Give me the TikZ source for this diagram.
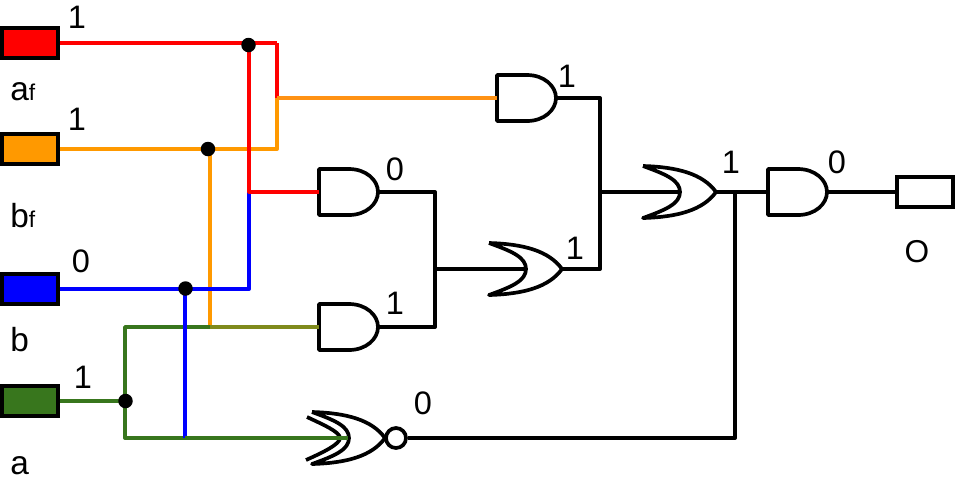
\documentclass[tikz,border=0pt]{standalone}
\usepackage{fontspec}
\setmainfont{Liberation Sans}
\definecolor{wirered}{HTML}{FF0000}
\definecolor{wireorange}{HTML}{FF9900}
\definecolor{wireamber}{HTML}{FF9214}
\definecolor{wireblue}{HTML}{0000FF}
\definecolor{wiregreen}{HTML}{38761D}
\definecolor{wireolive}{HTML}{7F8A1C}
\newcommand{\orbody}{(0,-26) .. controls (35,-25) and (60,-18) .. (73,0)
  .. controls (60,18) and (35,25) .. (0,26)
  .. controls (22,18) and (37,12) .. (37,0)
  .. controls (37,-12) and (22,-18) .. (0,-26)}
\tikzset{
  gateline/.style={draw=black,line width=2.1pt,line join=round},
  wire/.style={line width=2.2pt,line join=round},
  heavy/.style={line width=2.7pt},
  inputbox/.style={draw=black,line width=2pt,rectangle,minimum width=1.12cm,minimum height=0.6cm,inner sep=0pt},
  digit/.style={inner sep=0pt,font=\fontsize{18.5}{18.5}\selectfont},
  letter/.style={inner sep=0pt,anchor=base west,font=\fontsize{19}{19}\selectfont},
  dot/.style={circle,fill=black,minimum size=0.29cm,inner sep=0pt},
  andgate/.pic={
    \draw[gateline] (0,-23) -- (30,-23) .. controls (47,-23) and (59,-12) .. (59,0)
      .. controls (59,12) and (47,23) .. (30,23) -- (0,23) -- cycle;
    \coordinate (-in) at (0,0);
    \coordinate (-out) at (59,0);
  },
  orgate/.pic={
    \draw[gateline] \orbody;
    \coordinate (-in) at (37,0);
    \coordinate (-out) at (73,0);
  },
  xnorgate/.pic={
    \draw[gateline] \orbody;
    \draw[gateline] (-5,-21) .. controls (12,-13) and (28,-6) .. (28,0)
      .. controls (28,6) and (12,14) .. (-6,22);
    \node[circle,draw=black,line width=2.1pt,minimum size=0.4cm,inner sep=0pt] (-bubble) at (84,0) {};
    \coordinate (-in) at (36,0);
  },
}
\begin{document}
\begin{tikzpicture}[x=0.02cm,y=-0.02cm]
  \useasboundingbox (0,0) rectangle (960,485);

  \node[inputbox,fill=wirered] (af) at (30,43) {};
  \node[inputbox,fill=wireorange] (bf) at (30,149) {};
  \node[inputbox,fill=wireblue] (b) at (30,289) {};
  \node[inputbox,fill=wiregreen] (a) at (30,401) {};
  \node[inputbox] (out) at (925,192) {};

  \pic (and1) at (497,98) {andgate};
  \pic (and2) at (319,192) {andgate};
  \pic (and3) at (319,327) {andgate};
  \pic (and4) at (768,192) {andgate};
  \pic (or1) at (489,269) {orgate};
  \pic (or2) at (643,192) {orgate};
  \pic (xnor) at (312,438) {xnorgate};

  \coordinate (redtop) at (277,43);
  \coordinate (redfork) at (249,43);
  \coordinate (redmid) at (249,192);
  \coordinate (orange1) at (277,98);
  \coordinate (orange2) at (277,149);
  \coordinate (orangefork) at (210,149);
  \coordinate (orangelow) at (210,327);
  \coordinate (bluecorner) at (249,289);
  \coordinate (bluefork) at (185,289);
  \coordinate (bluelow) at (185,438);
  \coordinate (green1) at (125,327);
  \coordinate (green2) at (125,438);
  \coordinate (merge1) at (435,269);
  \coordinate (corner1) at (435,192);
  \coordinate (corner2) at (435,327);
  \coordinate (corner3) at (600,98);
  \coordinate (corner4) at (600,269);
  \coordinate (merge2) at (600,192);
  \coordinate (tap) at (735,192);
  \coordinate (corner5) at (735,438);

  \draw[wire,wireorange] (orangelow) -- (orangefork);
  \draw[wire,wireblue] (b.east) -- (bluecorner) -- (redmid);
  \draw[wire,wireorange] (bf.east) -- (orange2) -- (orange1);
  \draw[wire,wirered] (redtop) -- (orange1);
  \draw[wire,wirered] (af.east) -- (redtop);
  \draw[wire,wireblue,yshift=-0.9] (redmid) -- (and2-in);
  \draw[wire,wirered,line width=1.8pt] (redfork) -- (redmid) -- (and2-in);
  \draw[wire,wireamber] (orange1) -- (and1-in);
  \draw[wire,wiregreen] (a.east) -- (a.east -| green1);
  \draw[wire,wiregreen] (and3-in) -- (green1) -- (green2) -- (bluelow);
  \draw[wire,wireblue] (bluefork) -- (bluelow);
  \draw[wire,wireblue,yshift=0.6] (bluelow) -- (xnor-in);
  \draw[wire,wiregreen,line width=1.8pt] (bluelow) -- (xnor-in);
  \draw[wire,wireolive] (orangelow) -- (and3-in);
  \draw[wire] (and1-out) -- (corner3) -- (corner4) -- (or1-out);
  \draw[wire] (and2-out) -- (corner1) -- (corner2) -- (and3-out);
  \draw[wire,heavy] (merge1) -- (or1-in);
  \draw[wire,heavy] (merge2) -- (or2-in);
  \draw[wire] (or2-out) -- (and4-in);
  \draw[wire] (tap) -- (corner5) -- (xnor-bubble.east);
  \draw[wire,line width=1.9pt] (and4-out) -- (out.west);

  \node[dot] (dotaf) at (248.5,45) {};
  \node[dot] (dotbf) at (208,149) {};
  \node[dot] (dotb) at (185.5,288.5) {};
  \node[dot] (dota) at (125.5,401) {};

  \node[digit] (valaf) at (77,17) {1};
  \node[digit] (valbf) at (77,119) {1};
  \node[digit] (valb) at (81,261) {0};
  \node[digit] (vala) at (83,377) {1};
  \node[digit] (valand1) at (567,76) {1};
  \node[digit] (valand2) at (395,169) {0};
  \node[digit] (valand3) at (395,303) {1};
  \node[digit] (valor1) at (575,248) {1};
  \node[digit] (valor2) at (731,162) {1};
  \node[digit] (valand4) at (837,162) {0};
  \node[digit] (valxnor) at (423,403) {0};

  \node[letter] (nameaf) at (10,100) {a{\fontsize{13}{13}\selectfont f}};
  \node[letter] (namebf) at (10,227) {b{\fontsize{13}{13}\selectfont f}};
  \node[letter] (nameb) at (10,351) {b};
  \node[letter] (namea) at (10,474) {a};
  \node[letter,anchor=center,font=\fontsize{18}{18}\selectfont] (nameout) at (917,252) {O};
\end{tikzpicture}
\end{document}
